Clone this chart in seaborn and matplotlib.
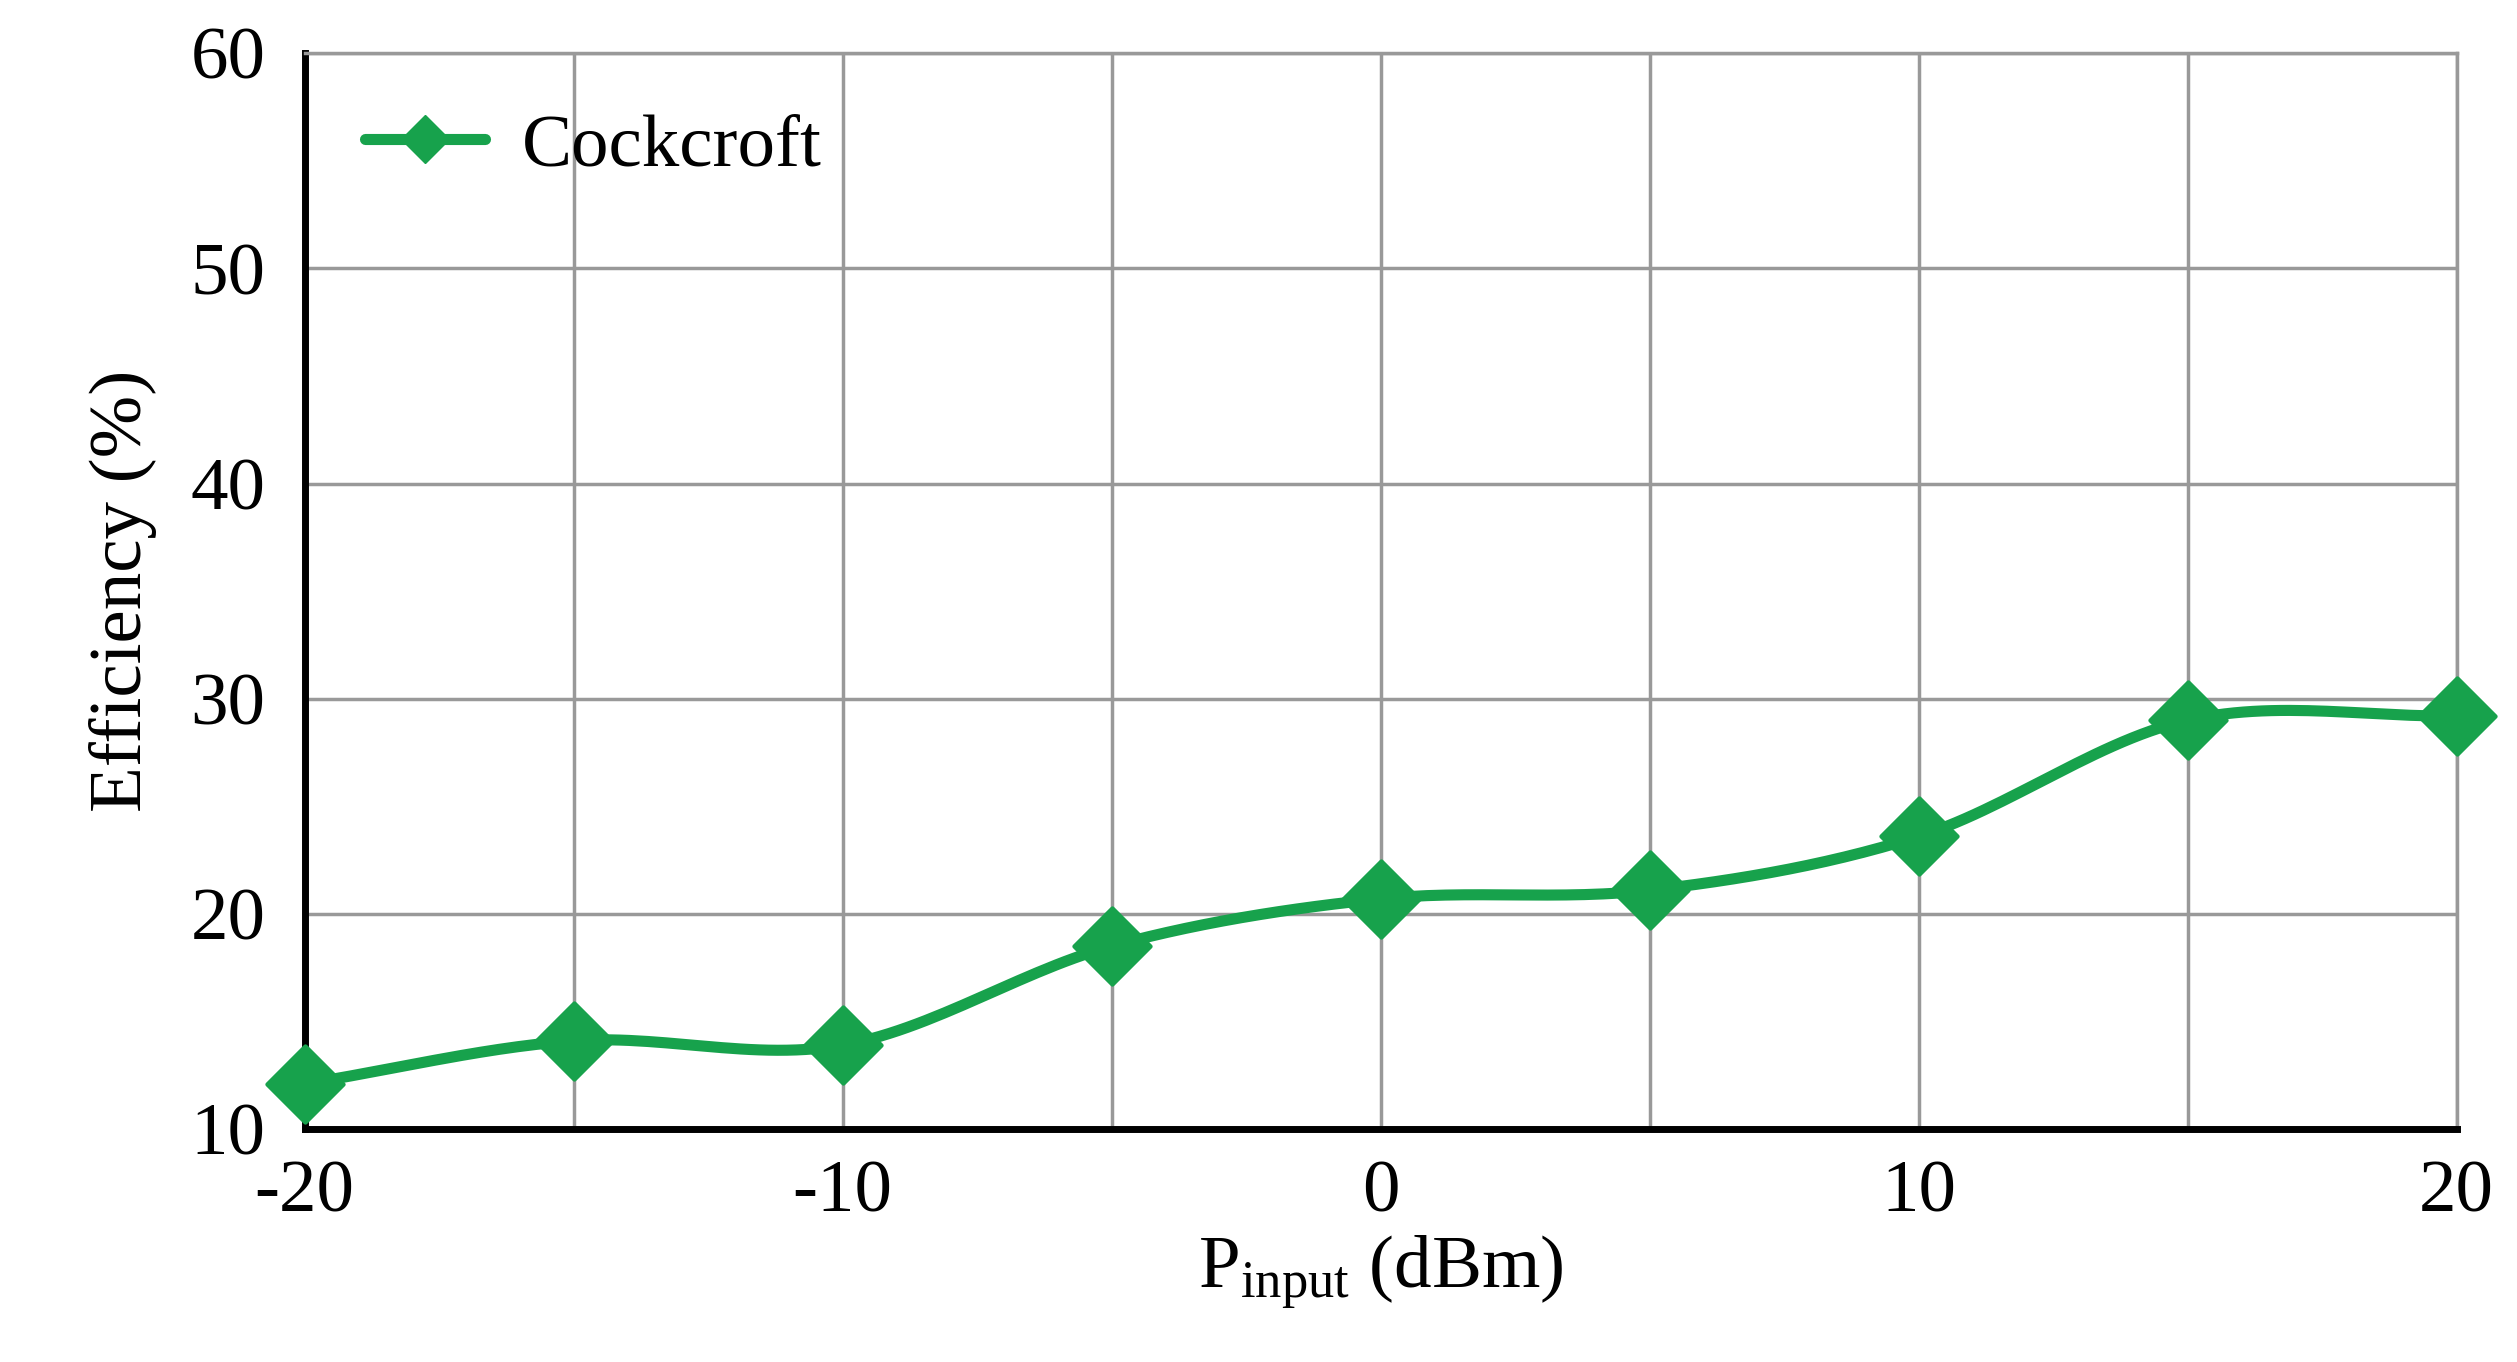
import numpy as np
import matplotlib
matplotlib.use("Agg")
import matplotlib.pyplot as plt
import seaborn as sns
from matplotlib.lines import Line2D

p_input = [-20, -15, -10, -5, 0, 5, 10, 15, 20]
efficiency = [12.1, 14.1, 13.9, 18.5, 20.7, 21.1, 23.6, 29.0, 29.2]
series_name = "Cockcroft"
x_ticks = [-20, -10, 0, 10, 20]
y_ticks = [10, 20, 30, 40, 50, 60]

sns.set_style("white")
plt.rcParams['font.family'] = ['Liberation Serif', 'DejaVu Serif']
plt.rcParams['mathtext.fontset'] = 'custom'
plt.rcParams['mathtext.rm'] = 'Liberation Serif'
plt.rcParams['mathtext.it'] = 'Liberation Serif'
plt.rcParams['axes.unicode_minus'] = False
plt.rcParams['text.color'] = 'black'
plt.rcParams['xtick.color'] = 'black'
plt.rcParams['ytick.color'] = 'black'
plt.rcParams['axes.labelcolor'] = 'black'

color = '#17a24c'
fig = plt.figure(figsize=(25.17, 13.62), dpi=100)
ax = fig.add_axes([0.121, 0.171, 0.855, 0.79])

x = np.array(p_input, float); y = np.array(efficiency, float)
px = np.concatenate([[2*x[0]-x[1]], x, [2*x[-1]-x[-2]]])
py = np.concatenate([[2*y[0]-y[1]], y, [2*y[-1]-y[-2]]])
sx, sy = [], []
t = np.linspace(0, 1, 30)
for i in range(1, len(px)-2):
    for arr, out in ((px, sx), (py, sy)):
        p0, p1, p2, p3 = arr[i-1:i+3]
        out.extend(0.5*((2*p1) + (-p0+p2)*t + (2*p0-5*p1+4*p2-p3)*t**2 + (-p0+3*p1-3*p2+p3)*t**3))
ax.plot(sx, sy, color=color, lw=8, zorder=3, clip_on=False)
sns.scatterplot(x=p_input, y=efficiency, marker='D', s=1500, color=color,
                edgecolor=color, ax=ax, zorder=4, clip_on=False)

ax.set_xlim(-20, 20)
ax.set_ylim(10, 60)
ax.set_xticks(x_ticks)
ax.set_yticks(y_ticks)
ax.set_xticks([-15, -5, 5, 15], minor=True)
ax.grid(True, which='both', color='#999999', lw=2.5)
ax.tick_params(axis='both', labelsize=54, length=0)
ax.tick_params(axis='x', pad=22)
ax.tick_params(axis='y', pad=28)
for s in ['top', 'right']:
    ax.spines[s].set_color('#999999'); ax.spines[s].set_linewidth(2.5)
for s in ['left', 'bottom']:
    ax.spines[s].set_color('black'); ax.spines[s].set_linewidth(5)
ax.set_ylabel("Efficiency (%)", fontsize=54, labelpad=24)
ax.set_xlabel(r"P$_{\mathrm{input}}$ (dBm)", fontsize=54, labelpad=4)

h = Line2D([0], [0], color=color, lw=8, marker='D', markersize=24)
ax.legend([h], [series_name], loc='upper left', fontsize=54, frameon=False,
          handlelength=1.6, borderaxespad=0.4, handletextpad=0.5)
fig.savefig("out.png", dpi=100)
